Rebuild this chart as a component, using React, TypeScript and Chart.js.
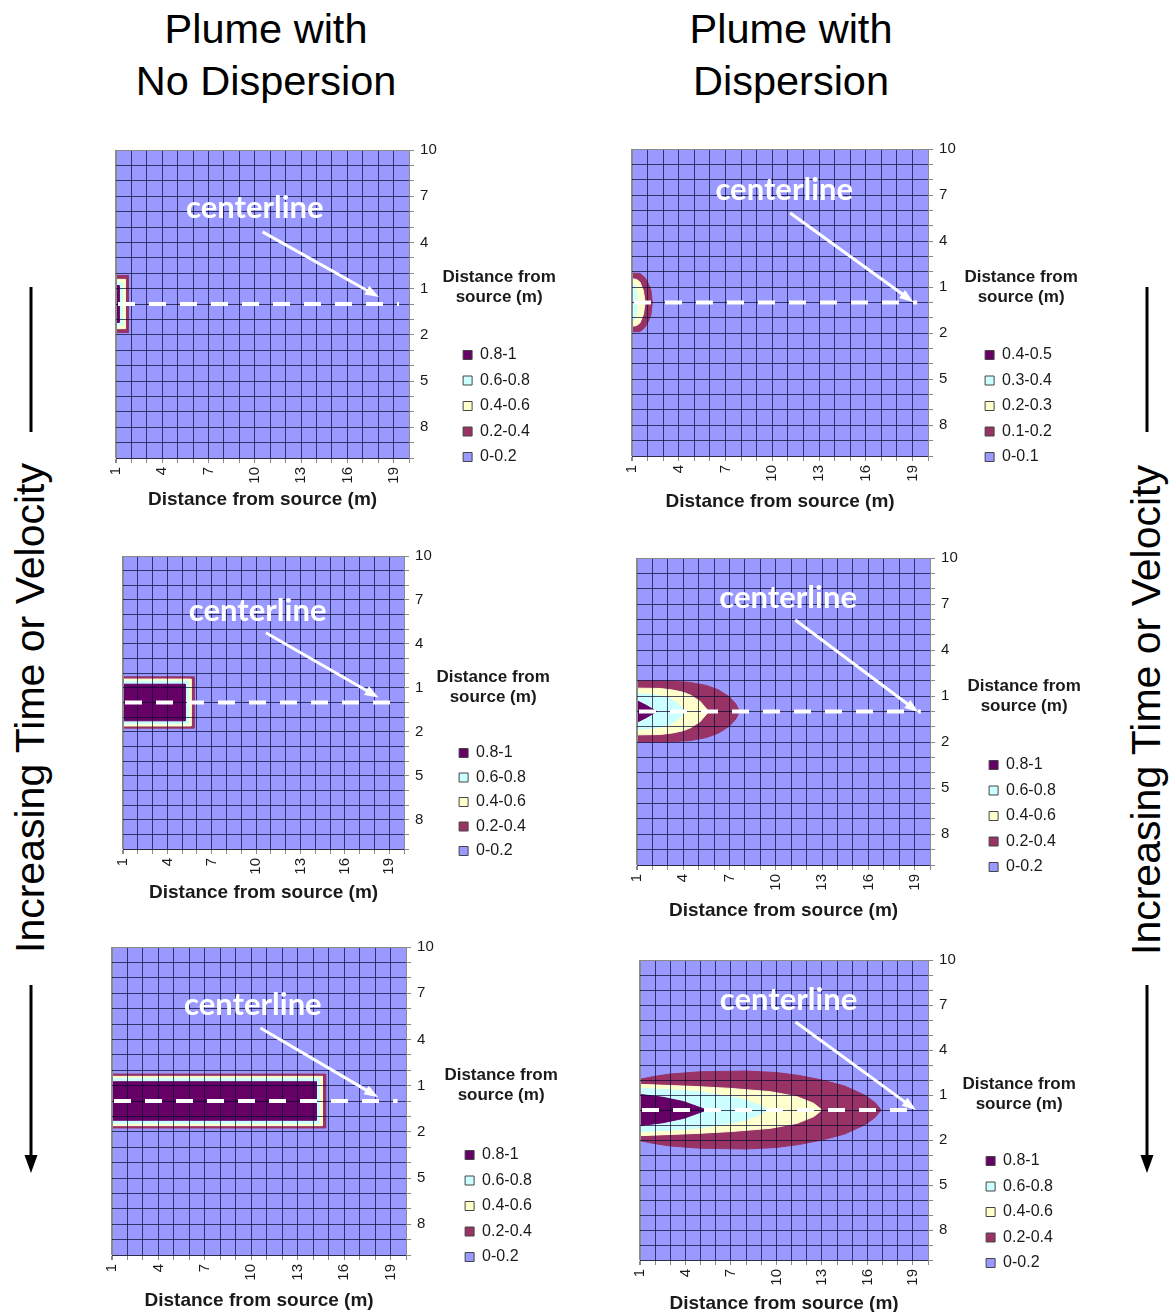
import React, { useEffect, useRef } from 'react';
import { Chart, registerables } from 'chart.js';

Chart.register(...registerables);

const SANS = '"Liberation Sans", Arial, Helvetica, sans-serif';

// ---- axes -------------------------------------------------------------
const DISTANCE_MIN = 1;
const DISTANCE_MAX = 20;
const X_TICK_LABELS = ['1', '4', '7', '10', '13', '16', '19'];
const Y_LABELS = ['10', '9', '8', '7', '6', '5', '4', '3', '2', '1', '0', '1', '2', '3', '4', '5', '6', '7', '8', '9', '10'];
const CENTER = Y_LABELS.indexOf('0');
const X_AXIS_TITLE = 'Distance from source (m)';
const Y_AXIS_TITLE = ['Distance from', 'source (m)'];

// ---- legends / bands (high -> low) -----------------------------------
const LEGEND_UNIT = ['0.8-1', '0.6-0.8', '0.4-0.6', '0.2-0.4', '0-0.2'];
const LEGEND_HALF = ['0.4-0.5', '0.3-0.4', '0.2-0.3', '0.1-0.2', '0-0.1'];
const BAND_COLORS = ['#660066', '#CCFFFF', '#FFFFCC', '#993366', '#9999FF'];

// ---- plume outlines: [distance, half-width from centerline] per band (high -> low)
const PLUME_NODISP_EARLY = [
  [[1, 1.2], [1.2, 1.2], [1.2, 0]],
  [[1, 1.4], [1.4, 1.4], [1.4, 0]],
  [[1, 1.6], [1.6, 1.6], [1.6, 0]],
  [[1, 1.85], [1.8, 1.85], [1.8, 0]],
];
const PLUME_NODISP_MID = [
  [[1, 1.25], [5.2, 1.25], [5.2, 0]],
  [[1, 1.45], [5.4, 1.45], [5.4, 0]],
  [[1, 1.6], [5.6, 1.6], [5.6, 0]],
  [[1, 1.75], [5.8, 1.75], [5.8, 0]],
];
const PLUME_NODISP_LATE = [
  [[1, 1.25], [14.2, 1.25], [14.2, 0]],
  [[1, 1.45], [14.4, 1.45], [14.4, 0]],
  [[1, 1.6], [14.6, 1.6], [14.6, 0]],
  [[1, 1.75], [14.8, 1.75], [14.8, 0]],
];
const PLUME_DISP_EARLY = [
  [],
  [[1, 1.25], [1.2, 1.1], [1.3, 0.6], [1.32, 0]],
  [[1, 1.55], [1.3, 1.5], [1.51, 1.33], [1.73, 0.78], [1.84, 0]],
  [[1, 1.9], [1.5, 1.9], [1.8, 1.65], [1.95, 1.43], [2.1, 1.1], [2.22, 0.78], [2.3, 0]],
];
const PLUME_DISP_MID = [
  [[1, 0.7], [1.6, 0.4], [2.28, 0]],
  [[1, 1.17], [2, 1.1], [2.6, 1.0], [3.14, 0.85], [3.6, 0.55], [4.12, 0]],
  [[1, 1.52], [2.5, 1.5], [3.3, 1.4], [4.0, 1.25], [4.5, 1.05], [5.1, 0.65], [5.65, 0]],
  [[1, 1.98], [3, 1.98], [4.4, 1.9], [5.5, 1.7], [6.3, 1.4], [7.0, 0.95], [7.4, 0.5], [7.64, 0]],
];
const PLUME_DISP_LATE = [
  [[1, 1.04], [2.5, 0.85], [3.87, 0.56], [5.41, 0]],
  [[1, 1.44], [3, 1.35], [4.75, 1.22], [7.62, 0.78], [8.72, 0.38], [9.48, 0]],
  [[1, 1.71], [4.75, 1.56], [6.96, 1.44], [9.6, 1.22], [11.36, 0.89], [12.46, 0.44], [13.0, 0]],
  [[1, 2.05], [2, 2.25], [3, 2.4], [5, 2.55], [8, 2.6], [10, 2.5], [11.5, 2.3], [13, 2.0], [14.5, 1.6], [15.8, 1.0], [16.5, 0.5], [16.9, 0]],
];

// ---- panel layout (page pixels of plot area) and annotation positions (data units)
const PANELS = [
  { id: 'tl', plume: PLUME_NODISP_EARLY, legend: LEGEND_UNIT, box: [116, 150, 408, 458], boxLeft: 462, titleTop: 118.5, firstItem: 355, itemPad: 9.5, xOff: 42, titleDx: 90,
    note: { label: [10.0, 3.77], arrow: [10.5, 5.32, 18.05, 9.55], lineEnd: 19.35 } },
  { id: 'tr', plume: PLUME_DISP_EARLY, legend: LEGEND_HALF, box: [632, 149, 927, 456], boxLeft: 984, titleTop: 119.5, firstItem: 355, itemPad: 9.5, xOff: 46, titleDx: 93,
    note: { label: [10.77, 2.67], arrow: [11.15, 4.17, 19.06, 9.98], lineEnd: 19.3 } },
  { id: 'ml', plume: PLUME_NODISP_MID, legend: LEGEND_UNIT, box: [123, 556, 403, 849], boxLeft: 458, titleTop: 112.5, firstItem: 753, itemPad: 8.5, xOff: 44, titleDx: 89,
    note: { label: [10.1, 3.74], arrow: [10.66, 5.24, 18.28, 9.66], lineEnd: 19.4 } },
  { id: 'mr', plume: PLUME_DISP_MID, legend: LEGEND_UNIT, box: [637, 558, 929, 865], boxLeft: 988, titleTop: 119.5, firstItem: 765, itemPad: 9.5, xOff: 46, titleDx: 94,
    note: { label: [10.8, 2.6], arrow: [11.26, 4.04, 19.25, 10.05], lineEnd: 19.4 } },
  { id: 'bl', plume: PLUME_NODISP_LATE, legend: LEGEND_UNIT, box: [112, 947, 405, 1255], boxLeft: 464, titleTop: 119.5, firstItem: 1155, itemPad: 9.5, xOff: 46, titleDx: 95,
    note: { label: [10.1, 3.77], arrow: [10.59, 5.26, 18.2, 9.75], lineEnd: 19.45 } },
  { id: 'br', plume: PLUME_DISP_LATE, legend: LEGEND_UNIT, box: [640, 960, 927, 1260], boxLeft: 985, titleTop: 115.5, firstItem: 1161, itemPad: 9.5, xOff: 44, titleDx: 91,
    note: { label: [10.8, 2.67], arrow: [11.26, 4.13, 19.2, 10.0], lineEnd: 19.35 } },
];

const PAD_L = 15;
const PAD_T = 15;
const PAD_R = 30;
const LEGEND_FONT = 16;
const LEGEND_BOX = 9;
const TITLE_LINE = 20.4;
const X_TITLE_HALF = 11.4;
const GRID = 'rgba(10,10,50,0.72)';
const EDGE = '#8a8a8a';

function outlineToPolygon(outline: number[][]) {
  if (!outline.length) return [];
  const upper = outline.map(([x, h]) => ({ x, y: CENTER - h }));
  const lower = outline.slice().reverse().map(([x, h]) => ({ x, y: CENTER + h }));
  return [...upper, ...lower, upper[0]];
}

const notesPlugin = {
  id: 'plumeNotes',
  afterDraw(chart: any, _args: any, opts: any) {
    const { ctx, chartArea } = chart;
    const xs = chart.scales.x;
    const ys = chart.scales.y;
    ctx.save();
    // dashed centerline
    ctx.strokeStyle = '#ffffff';
    ctx.lineWidth = 4;
    ctx.lineCap = 'butt';
    ctx.setLineDash([17, 14]);
    ctx.beginPath();
    ctx.moveTo(xs.getPixelForValue(DISTANCE_MIN) + 2, ys.getPixelForValue(CENTER));
    ctx.lineTo(xs.getPixelForValue(opts.lineEnd), ys.getPixelForValue(CENTER));
    ctx.stroke();
    ctx.setLineDash([]);
    // arrow
    const [ax1, ay1, ax2, ay2] = opts.arrow;
    const x1 = xs.getPixelForValue(ax1);
    const y1 = ys.getPixelForValue(ay1);
    const x2 = xs.getPixelForValue(ax2);
    const y2 = ys.getPixelForValue(ay2);
    const ang = Math.atan2(y2 - y1, x2 - x1);
    const c = Math.cos(ang);
    const s = Math.sin(ang);
    ctx.lineWidth = 3;
    ctx.beginPath();
    ctx.moveTo(x1, y1);
    ctx.lineTo(x2 - 10 * c, y2 - 10 * s);
    ctx.stroke();
    ctx.fillStyle = '#ffffff';
    ctx.beginPath();
    ctx.moveTo(x2, y2);
    ctx.lineTo(x2 - 14 * c + 5 * s, y2 - 14 * s - 5 * c);
    ctx.lineTo(x2 - 14 * c - 5 * s, y2 - 14 * s + 5 * c);
    ctx.closePath();
    ctx.fill();
    // label
    ctx.font = 'bold 31px Lato, "Open Sans", sans-serif';
    ctx.textAlign = 'center';
    ctx.textBaseline = 'middle';
    ctx.fillText('centerline', xs.getPixelForValue(opts.label[0]), ys.getPixelForValue(opts.label[1]));
    // side axis title (above the legend)
    ctx.fillStyle = '#1a1a1a';
    ctx.font = `bold 17px ${SANS}`;
    const tx = chartArea.right + opts.titleDx;
    const ty = chartArea.top + opts.titleTop + 8.5;
    Y_AXIS_TITLE.forEach((line, i) => ctx.fillText(line, tx, ty + i * TITLE_LINE));
    ctx.restore();
  },
};

function panelGeometry(p: any) {
  const [L, T, R, B] = p.box;
  const axisW = p.boxLeft - R - p.itemPad;
  // legend natural width: 10 + padding + box + font/2 + widest label (+1 measured slack)
  const legendW = 10 + p.itemPad + LEGEND_BOX + LEGEND_FONT / 2 + 3.113 * LEGEND_FONT + 1.1;
  const titleBottom = p.firstItem - T - p.itemPad - LEGEND_FONT / 2 - TITLE_LINE - p.titleTop;
  const xAxisH = p.xOff + X_TITLE_HALF;
  const W = Math.ceil(PAD_L + (R - L) + axisW + legendW + PAD_R);
  const H = Math.ceil(PAD_T + (B - T) + xAxisH + 4);
  const padB = H - PAD_T - (B - T) - xAxisH;
  const padR = W - PAD_L - (R - L) - axisW - legendW;
  return { left: L - PAD_L, top: T - PAD_T, W, H, padB, padR, xAxisH, axisW, titleBottom };
}

function buildConfig(p: any, g: any): any {
  const datasets = p.legend.map((label: string, i: number) => {
    const data = i < p.plume.length
      ? outlineToPolygon(p.plume[i])
      : [
          { x: DISTANCE_MIN, y: 0 },
          { x: DISTANCE_MAX, y: 0 },
          { x: DISTANCE_MAX, y: Y_LABELS.length - 1 },
          { x: DISTANCE_MIN, y: Y_LABELS.length - 1 },
          { x: DISTANCE_MIN, y: 0 },
        ];
    return {
      label,
      data,
      backgroundColor: BAND_COLORS[i],
      borderColor: BAND_COLORS[i],
      borderWidth: 1,
      fill: 'shape',
      pointRadius: 0,
      pointHoverRadius: 0,
      tension: 0,
    };
  });

  const tickFont = { family: SANS, size: 15 };
  return {
    type: 'line',
    data: { datasets },
    options: {
      responsive: false,
      animation: false,
      events: [],
      layout: { padding: { left: PAD_L, top: PAD_T, right: g.padR, bottom: g.padB } },
      scales: {
        x: {
          type: 'linear',
          position: 'bottom',
          min: DISTANCE_MIN,
          max: DISTANCE_MAX,
          afterFit: (s: any) => { s.height = g.xAxisH; },
          ticks: {
            stepSize: 1,
            autoSkip: false,
            maxTicksLimit: 100,
            minRotation: 90,
            maxRotation: 90,
            padding: 4,
            color: '#1a1a1a',
            font: tickFont,
            callback: (v: number) => ((v - 1) % 3 === 0 ? X_TICK_LABELS[(v - 1) / 3] : ''),
          },
          grid: {
            z: 1,
            color: (c: any) => (c.tick && c.tick.value === DISTANCE_MIN ? EDGE : GRID),
            lineWidth: (c: any) => (c.tick && c.tick.value === DISTANCE_MIN ? 2 : 1),
            tickColor: EDGE,
            tickLength: 5,
          },
          border: { z: 1, color: EDGE, width: 1 },
          title: {
            display: true,
            text: X_AXIS_TITLE,
            color: '#1a1a1a',
            font: { family: SANS, size: 19, weight: 'bold', lineHeight: 1.2 },
            padding: { top: 0, bottom: 0 },
          },
        },
        y: {
          type: 'linear',
          position: 'right',
          min: 0,
          max: Y_LABELS.length - 1,
          reverse: true,
          afterFit: (s: any) => { s.width = g.axisW; },
          ticks: {
            stepSize: 1,
            autoSkip: false,
            maxTicksLimit: 100,
            padding: 6,
            color: '#1a1a1a',
            font: tickFont,
            callback: (v: number) => (v % 3 === 0 ? Y_LABELS[v] : ''),
          },
          grid: {
            z: 1,
            color: (c: any) => (c.tick && c.tick.value === 0 ? EDGE : GRID),
            tickColor: EDGE,
            tickLength: 5,
          },
          border: { z: 1, color: EDGE, width: 1 },
        },
      },
      plugins: {
        tooltip: { enabled: false },
        legend: {
          position: 'right',
          align: 'start',
          fullSize: true,
          labels: {
            boxWidth: LEGEND_BOX,
            boxHeight: LEGEND_BOX,
            padding: p.itemPad,
            color: '#1a1a1a',
            font: { family: SANS, size: LEGEND_FONT },
            generateLabels: (chart: any) =>
              Chart.defaults.plugins.legend.labels
                .generateLabels(chart)
                .map((it: any) => ({ ...it, strokeStyle: '#444444', lineWidth: 1 })),
          },
          title: {
            display: true,
            text: ' ',
            font: { family: SANS, size: 17, weight: 'bold', lineHeight: 1.2 },
            padding: { top: p.titleTop, bottom: g.titleBottom },
          },
        },
        plumeNotes: { ...p.note, titleDx: p.titleDx, titleTop: p.titleTop },
      },
    },
    plugins: [notesPlugin],
  };
}

function PlumePanel({ p }: { p: any }) {
  const ref = useRef<HTMLCanvasElement>(null);
  const g = panelGeometry(p);
  useEffect(() => {
    if (!ref.current) return;
    const chart = new Chart(ref.current, buildConfig(p, g));
    return () => chart.destroy();
  }, []);
  return (
    <canvas
      ref={ref}
      width={g.W}
      height={g.H}
      style={{ position: 'absolute', left: g.left, top: g.top, width: g.W, height: g.H }}
    />
  );
}

const headStyle: any = {
  position: 'absolute',
  top: 3,
  width: 420,
  textAlign: 'center',
  fontFamily: SANS,
  fontSize: 41.5,
  lineHeight: '52px',
  color: '#000',
  whiteSpace: 'nowrap',
};

const sideStyle: any = {
  position: 'absolute',
  width: 620,
  height: 50,
  lineHeight: '50px',
  textAlign: 'center',
  fontFamily: SANS,
  fontSize: 41,
  color: '#000',
  whiteSpace: 'nowrap',
  transform: 'rotate(-90deg)',
  transformOrigin: '50% 50%',
};

export default function App() {
  return (
    <div style={{ position: 'absolute', left: 0, top: 0, width: 1172, height: 1312, background: '#ffffff', overflow: 'hidden' }}>
      <div style={{ ...headStyle, left: 266 - 210 }}>Plume with<br />No Dispersion</div>
      <div style={{ ...headStyle, left: 791 - 210 }}>Plume with<br />Dispersion</div>

      <div style={{ ...sideStyle, left: 30 - 310, top: 708 - 25 }}>Increasing Time or Velocity</div>
      <div style={{ ...sideStyle, left: 1146 - 310, top: 710 - 25 }}>Increasing Time or Velocity</div>

      <svg width={1172} height={1312} style={{ position: 'absolute', left: 0, top: 0 }}>
        <line x1={31} y1={287} x2={31} y2={432} stroke="#000" strokeWidth={3} />
        <line x1={31} y1={985} x2={31} y2={1158} stroke="#000" strokeWidth={3} />
        <polygon points="24.5,1155 37.5,1155 31,1173" fill="#000" />
        <line x1={1147} y1={287} x2={1147} y2={432} stroke="#000" strokeWidth={3} />
        <line x1={1147} y1={985} x2={1147} y2={1158} stroke="#000" strokeWidth={3} />
        <polygon points="1140.5,1155 1153.5,1155 1147,1173" fill="#000" />
      </svg>

      {PANELS.map((p) => (
        <PlumePanel key={p.id} p={p} />
      ))}
    </div>
  );
}
